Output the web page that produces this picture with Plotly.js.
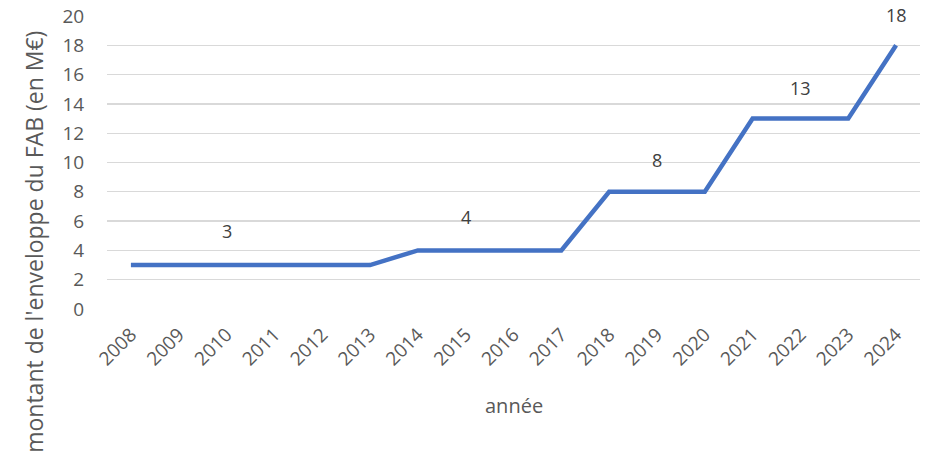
<!DOCTYPE html>
<html>
<head>
<meta charset="utf-8">
<script src="https://cdn.plot.ly/plotly-3.0.1.min.js"></script>
<style>html,body{margin:0;padding:0;background:#fff;}#chart{width:932px;height:454px;}</style>
</head>
<body>
<div id="chart"></div>
<script>
const years = ['2008','2009','2010','2011','2012','2013','2014','2015','2016','2017','2018','2019','2020','2021','2022','2023','2024'];
const amounts = [3,3,3,3,3,3,4,4,4,4,8,8,8,13,13,13,18];
const labelYears = ['2010','2015','2019','2022','2024'];
const labelTexts = ['3','4','8','13','18'];
const labelY = [5.3,6.3,10.2,15.1,20.1];
const yMax = 20;

const font = 'Open Sans, Liberation Sans, sans-serif';
const annotations = labelYears.map((y,i)=>({
  x: years.indexOf(y), y: labelY[i]/yMax, xref:'x', yref:'paper', text: labelTexts[i], showarrow:false,
  font:{family:font,size:18,color:'#404040'}, yanchor:'middle', xanchor:'center'
}));
annotations.push({
  xref:'paper', yref:'paper', x:-0.089, y:0.955, xanchor:'center', yanchor:'top',
  text:"montant de l'enveloppe du FAB (en M€)", textangle:-90, showarrow:false,
  font:{family:font,size:23,color:'#595959'}
});
annotations.push({
  xref:'paper', yref:'paper', x:0.5, y:-0.328, xanchor:'center', yanchor:'middle',
  text:'année', showarrow:false, font:{family:font,size:20,color:'#595959'}
});

Plotly.newPlot('chart', [{
  x: years, y: amounts, type:'scatter', mode:'lines',
  line:{color:'#4472C4', width:4.5}, hoverinfo:'skip'
}], {
  width:932, height:454,
  margin:{l:107, r:12, t:16, b:145},
  paper_bgcolor:'#fff', plot_bgcolor:'#fff',
  showlegend:false,
  xaxis:{type:'category', range:[-0.5, years.length-0.5], autorange:false, tickangle:-45,
    showgrid:false, zeroline:false, showline:false,
    ticks:'outside', ticklen:6, tickcolor:'rgba(0,0,0,0)',
    tickfont:{family:font,size:19,color:'#595959'}},
  yaxis:{range:[0,yMax], autorange:false, dtick:2, showgrid:true, gridcolor:'#d9d9d9', gridwidth:1.3,
    zeroline:false, showline:false, ticks:'outside', ticklen:18, tickcolor:'rgba(0,0,0,0)',
    tickfont:{family:font,size:19,color:'#595959'}},
  annotations: annotations
}, {staticPlot:true});
</script>
</body>
</html>
